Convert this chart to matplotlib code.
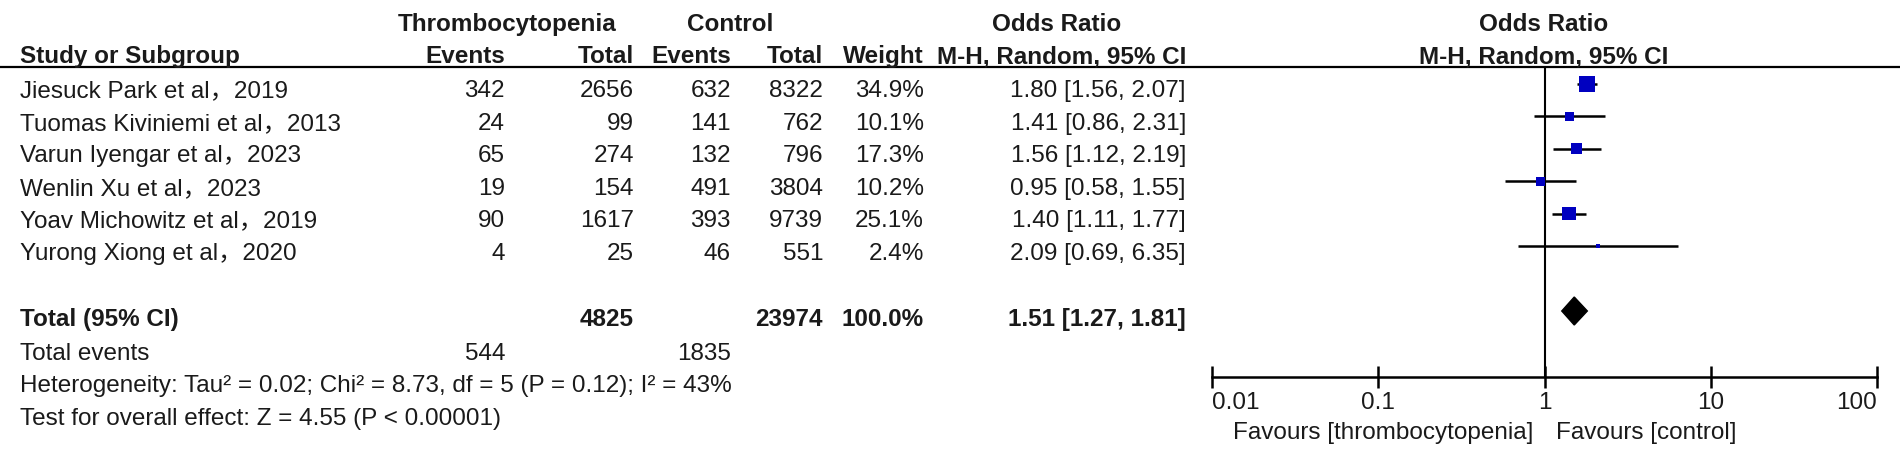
import matplotlib
matplotlib.use("Agg")
import matplotlib.pyplot as plt
from matplotlib.lines import Line2D
import numpy as np

# study data
studies = ["Jiesuck Park et al，2019", "Tuomas Kiviniemi et al，2013", "Varun Iyengar et al，2023",
           "Wenlin Xu et al，2023", "Yoav Michowitz et al，2019", "Yurong Xiong et al，2020"]
thr_events = [342, 24, 65, 19, 90, 4]
thr_total = [2656, 99, 274, 154, 1617, 25]
ctrl_events = [632, 141, 132, 491, 393, 46]
ctrl_total = [8322, 762, 796, 3804, 9739, 551]
weights = [34.9, 10.1, 17.3, 10.2, 25.1, 2.4]
odds = [1.80, 1.41, 1.56, 0.95, 1.40, 2.09]
ci_low = [1.56, 0.86, 1.12, 0.58, 1.11, 0.69]
ci_high = [2.07, 2.31, 2.19, 1.55, 1.77, 6.35]

pooled_or, pooled_lo, pooled_hi = 1.51, 1.27, 1.81
sum_thr_total, sum_ctrl_total = 4825, 23974
sum_thr_events, sum_ctrl_events = 544, 1835
het_text = "Heterogeneity: Tau² = 0.02; Chi² = 8.73, df = 5 (P = 0.12); I² = 43%"
effect_text = "Test for overall effect: Z = 4.55 (P < 0.00001)"
ticks = [0.01, 0.1, 1, 10, 100]

W, H = 1900, 458
FONT = ["Liberation Sans", "Noto Sans CJK SC"]
FS = 17.5
TXT = "#1a1a1a"

fig = plt.figure(figsize=(W / 100, H / 100), dpi=100)
fig.patch.set_facecolor("white")


def put(x, y, s, ha="left", bold=False):
    # y is the vertical centre of the capitals, in pixels from the top
    base = y + FS / 2
    fig.text(x / W, 1 - base / H, s, ha=ha, va="baseline", fontsize=FS, color=TXT,
             family=FONT, fontweight="bold" if bold else "normal")


# column right edges
c_thr_ev, c_thr_tot, c_ctl_ev, c_ctl_tot, c_wt, c_or = 505, 634, 731, 823, 924, 1186

# headers
put(507, 22, "Thrombocytopenia", ha="center", bold=True)
put(730, 22, "Control", ha="center", bold=True)
put(1057, 22, "Odds Ratio", ha="center", bold=True)
put(1544, 22, "Odds Ratio", ha="center", bold=True)
put(20, 54.5, "Study or Subgroup", bold=True)
put(c_thr_ev, 54.5, "Events", ha="right", bold=True)
put(c_thr_tot, 54.5, "Total", ha="right", bold=True)
put(c_ctl_ev, 54.5, "Events", ha="right", bold=True)
put(c_ctl_tot, 54.5, "Total", ha="right", bold=True)
put(c_wt, 54.5, "Weight", ha="right", bold=True)
put(c_or, 54.5, "M-H, Random, 95% CI", ha="right", bold=True)
put(1544, 54.5, "M-H, Random, 95% CI", ha="center", bold=True)
fig.add_artist(Line2D([0, 1], [1 - 67 / H] * 2, transform=fig.transFigure, color="black", lw=1.6))

text_y = [88.5 + 32.5 * i for i in range(len(studies))]
for i, y in enumerate(text_y):
    put(20, y, studies[i])
    put(c_thr_ev, y, str(thr_events[i]), ha="right")
    put(c_thr_tot, y, str(thr_total[i]), ha="right")
    put(c_ctl_ev, y, str(ctrl_events[i]), ha="right")
    put(c_ctl_tot, y, str(ctrl_total[i]), ha="right")
    put(c_wt, y, f"{weights[i]:.1f}%", ha="right")
    put(c_or, y, f"{odds[i]:.2f} [{ci_low[i]:.2f}, {ci_high[i]:.2f}]", ha="right")

ty = 317.5
put(20, ty, "Total (95% CI)", bold=True)
put(c_thr_tot, ty, str(sum_thr_total), ha="right", bold=True)
put(c_ctl_tot, ty, str(sum_ctrl_total), ha="right", bold=True)
put(c_wt, ty, f"{sum(weights):.1f}%", ha="right", bold=True)
put(c_or, ty, f"{pooled_or:.2f} [{pooled_lo:.2f}, {pooled_hi:.2f}]", ha="right", bold=True)
put(20, 351, "Total events")
put(c_thr_ev, 351, str(sum_thr_events), ha="right")
put(c_ctl_ev, 351, str(sum_ctrl_events), ha="right")
put(20, 383, het_text)
put(20, 416, effect_text)

# forest plot
ax_l, ax_r, ax_t, ax_b = 1212, 1877, 67, 377
ax = fig.add_axes([ax_l / W, 1 - ax_b / H, (ax_r - ax_l) / W, (ax_b - ax_t) / H])
ax.set_xscale("log")
ax.set_xlim(ticks[0], ticks[-1])
ax.set_ylim(ax_b, ax_t)
ax.patch.set_alpha(0)
for s in ["top", "left", "right"]:
    ax.spines[s].set_visible(False)
ax.spines["bottom"].set_linewidth(1.8)
ax.set_yticks([])
ax.set_xticks(ticks)
ax.set_xticklabels(["0.01", "0.1", "1", "10", "100"])
ax.minorticks_off()
ax.tick_params(axis="x", which="major", direction="inout", length=16, width=1.8,
               labelsize=FS, pad=3, labelcolor=TXT)
for lab in ax.get_xticklabels():
    lab.set_family(FONT)
labs = ax.get_xticklabels()
labs[0].set_ha("left")
labs[-1].set_ha("right")

marker_y = [84 + 32.4 * i for i in range(len(studies))]
ax.axvline(1, color="black", lw=1.5, zorder=1)
ax.hlines(marker_y, ci_low, ci_high, color="black", lw=1.8, zorder=2)
side_px = 16 * np.sqrt(np.array(weights) / max(weights))
ax.scatter(odds, marker_y, marker="s", s=(side_px * 0.72) ** 2, color="#0000c0",
           linewidths=0, zorder=3)

dy = 311
dh = 14
ax.fill([pooled_lo, pooled_or, pooled_hi, pooled_or], [dy, dy - dh, dy, dy + dh],
        color="black", zorder=3)

put(1533, 430, "Favours [thrombocytopenia]", ha="right")
put(1556, 430, "Favours [control]")

fig.savefig("out.png", dpi=100, facecolor="white")
